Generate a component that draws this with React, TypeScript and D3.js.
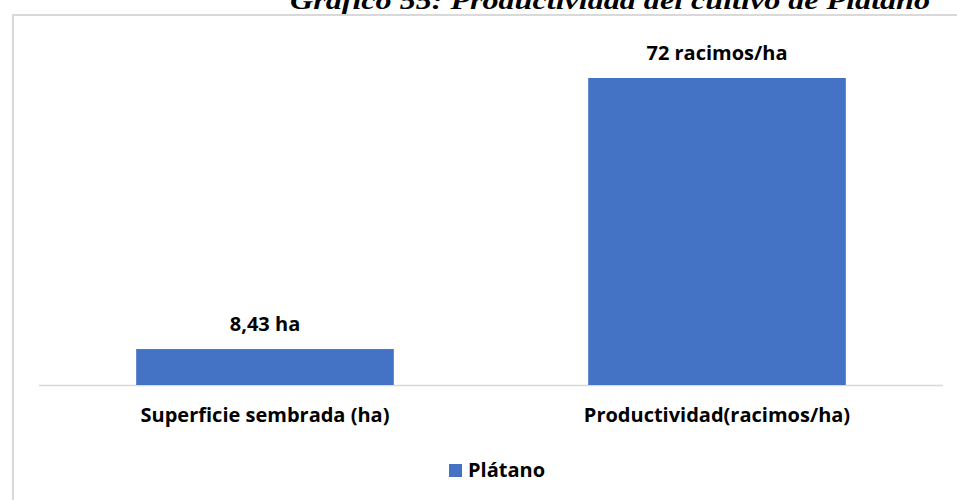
import React from "react";
import * as d3 from "d3";

const categories = ["Superficie sembrada (ha)", "Productividad(racimos/ha)"];
const values = [8.43, 72];
const valueLabels = ["8,43 ha", "72 racimos/ha"];
const seriesName = "Plátano";
const title = "Gráfico 55: Productividad del cultivo de Plátano";

const W = 957;
const H = 500;
const BLUE = "#4472C4";

export default function App() {
  const x = d3.scaleBand<string>().domain(categories).range([39, 943]).paddingInner(0.43).paddingOuter(0.215);
  const y = d3.scaleLinear().domain([0, 72]).range([385, 78]);
  const font = "'Open Sans', 'Noto Sans', sans-serif";
  return (
    <svg width={W} height={H} style={{ position: "absolute", left: 0, top: 0 }}>
      <rect x={0} y={0} width={W} height={H} fill="#fff" />
      <rect x={13} y={15} width={W + 20} height={H + 20} fill="none" stroke="#d9d9d9" strokeWidth={2} />
      <text x={930} y={9} textAnchor="end" fontFamily="'Liberation Serif', 'DejaVu Serif', serif" fontWeight="bold" fontStyle="italic" fontSize={26} textLength={640} lengthAdjust="spacingAndGlyphs">{title}</text>
      <line x1={39} x2={943} y1={385.5} y2={385.5} stroke="#d9d9d9" strokeWidth={1.5} />
      {categories.map((c, i) => (
        <g key={c}>
          <rect x={x(c)} y={y(values[i])} width={x.bandwidth()} height={y(0) - y(values[i])} fill={BLUE} />
          <text x={x(c)! + x.bandwidth() / 2} y={y(values[i]) - 18} textAnchor="middle" fontFamily={font} fontWeight="bold" fontSize={20}>{valueLabels[i]}</text>
          <text x={x(c)! + x.bandwidth() / 2} y={422} textAnchor="middle" fontFamily={font} fontWeight="bold" fontSize={20}>{c}</text>
        </g>
      ))}
      <rect x={449} y={464} width={13} height={13} fill={BLUE} />
      <text x={468} y={477} fontFamily={font} fontWeight="bold" fontSize={20}>{seriesName}</text>
    </svg>
  );
}
